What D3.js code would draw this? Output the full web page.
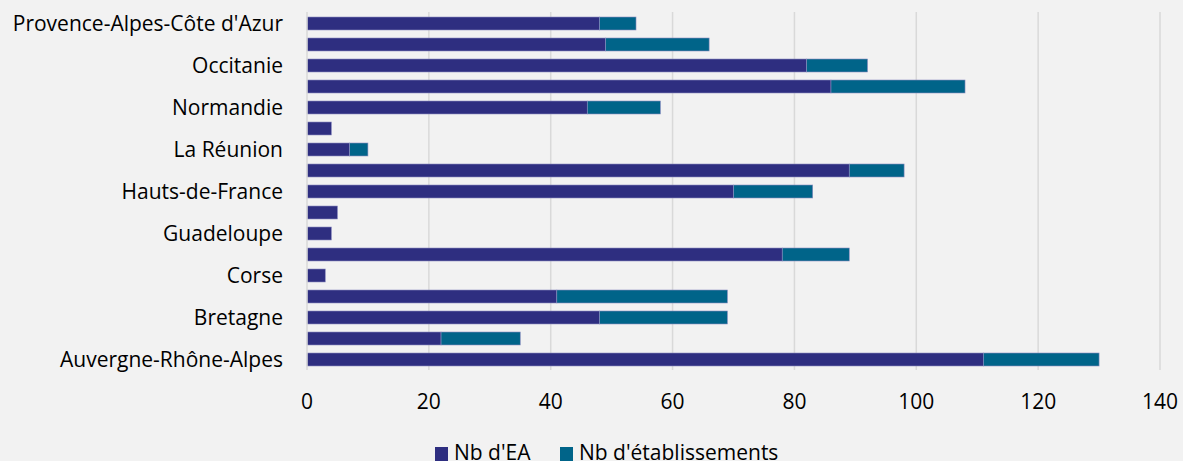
<!DOCTYPE html>
<html>
<head>
<meta charset="utf-8">
<script src="https://cdn.jsdelivr.net/npm/d3@7"></script>
<style>
  body { margin: 0; background: #f2f2f2; overflow: hidden; }
  text { font-family: "Open Sans", sans-serif; fill: #000; }
</style>
</head>
<body>
<div id="chart"></div>
<script>
// categories, bottom to top as in the sheet
var regions = ["Auvergne-Rhône-Alpes", "Bourgogne-Franche-Comté", "Bretagne", "Centre-Val de Loire",
  "Corse", "Grand Est", "Guadeloupe", "Guyane", "Hauts-de-France", "Île-de-France", "La Réunion",
  "Martinique", "Normandie", "Nouvelle-Aquitaine", "Occitanie", "Pays de la Loire",
  "Provence-Alpes-Côte d'Azur"];
var nbEA = [111, 22, 48, 41, 3, 78, 4, 5, 70, 89, 7, 4, 46, 86, 82, 49, 48];
var nbEtab = [19, 13, 21, 28, 0, 11, 0, 0, 13, 9, 3, 0, 12, 22, 10, 17, 6];
var seriesNames = ["Nb d'EA", "Nb d'établissements"];
var colors = ["#2e2e80", "#006489"];
var xTicks = [0, 20, 40, 60, 80, 100, 120, 140];

var W = 1183, H = 461;
var m = { left: 307, right: 23, top: 12, bottom: 91 };

var svg = d3.select("#chart").append("svg")
  .attr("width", W).attr("height", H);

var x = d3.scaleLinear().domain([0, 140]).range([m.left, W - m.right]);
var y = d3.scaleBand().domain(regions.slice().reverse())
  .range([12.8, 370.2]).paddingInner(0.381).paddingOuter(0.2);

// grid
svg.append("g").selectAll("line").data(xTicks.slice(1)).join("line")
  .attr("x1", d => x(d)).attr("x2", d => x(d))
  .attr("y1", m.top).attr("y2", H - m.bottom)
  .attr("stroke", "#d9d9d9").attr("stroke-width", 1.5);

var rows = regions.map((r, i) => ({ region: r, ea: nbEA[i], etab: nbEtab[i] }));
var stacked = d3.stack().keys(["ea", "etab"])(rows);

svg.append("g").selectAll("g").data(stacked).join("g")
  .attr("fill", (d, i) => colors[i])
  .selectAll("rect").data(d => d.filter(p => p[1] > p[0])).join("rect")
  .attr("x", d => x(d[0]))
  .attr("y", d => y(d.data.region))
  .attr("width", d => x(d[1]) - x(d[0]))
  .attr("height", y.bandwidth())
  .attr("stroke", "#8c8cc0").attr("stroke-width", 0.6);

// vertical axis line
svg.append("line")
  .attr("x1", x(0)).attr("x2", x(0))
  .attr("y1", m.top).attr("y2", H - m.bottom)
  .attr("stroke", "#d9d9d9").attr("stroke-width", 1.5);

// category labels, every other one
svg.append("g").selectAll("text")
  .data(regions.filter((r, i) => i % 2 == 0)).join("text")
  .attr("x", m.left - 24)
  .attr("y", d => y(d) + y.bandwidth() / 2)
  .attr("dy", "0.35em")
  .attr("text-anchor", "end")
  .attr("font-size", "21px")
  .text(d => d);

// x tick labels
svg.append("g").selectAll("text").data(xTicks).join("text")
  .attr("x", d => x(d)).attr("y", 409)
  .attr("text-anchor", "middle")
  .attr("font-size", "21px")
  .text(d => d);

// legend
var legend = svg.append("g");
var lx = [435, 560];
seriesNames.forEach(function(name, i) {
  legend.append("rect")
    .attr("x", lx[i]).attr("y", 447).attr("width", 13).attr("height", 14)
    .attr("fill", colors[i]);
  legend.append("text")
    .attr("x", lx[i] + 19).attr("y", 460)
    .attr("font-size", "21px")
    .text(name);
});
</script>
</body>
</html>
